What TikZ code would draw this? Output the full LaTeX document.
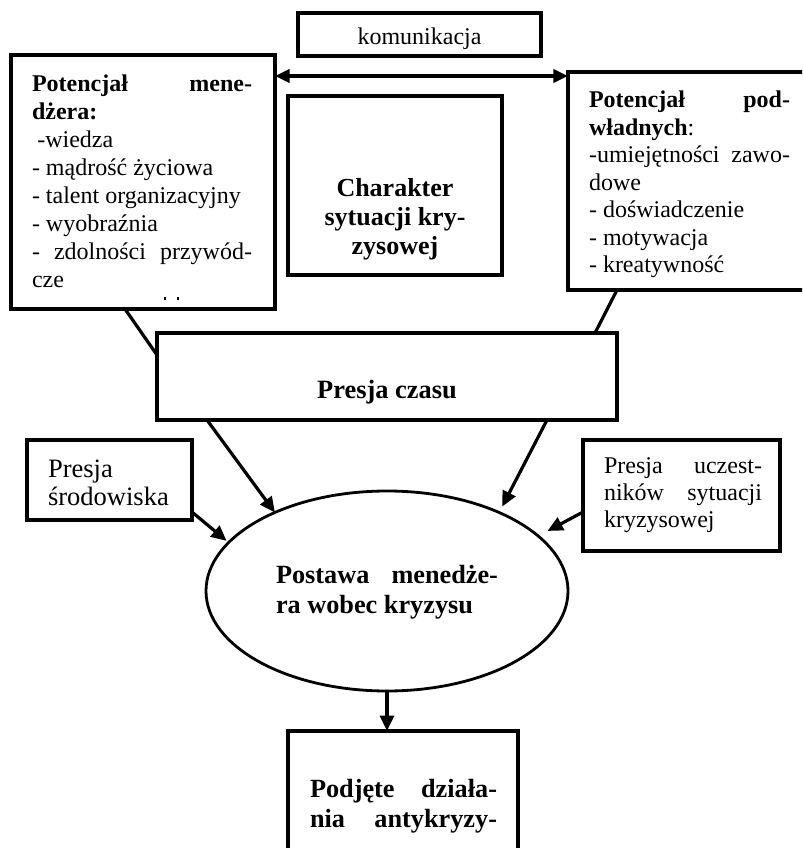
\documentclass[tikz,border=0pt]{standalone}
\usepackage{fontspec}
\setmainfont{Liberation Serif}
\usetikzlibrary{arrows.meta,shapes.geometric,calc}
\tikzset{
  box/.style={draw, rectangle, line width=2.5pt, inner sep=0pt, outer sep=0pt, anchor=north west},
  txt/.style={inner sep=0pt, outer sep=0pt, anchor=base west},
  ctxt/.style={inner sep=0pt, outer sep=0pt, anchor=base},
  conn/.style={line width=2.4pt},
  arr/.style={line width=2.4pt, -{Triangle[length=11.5pt,width=10.5pt]}},
  darr/.style={line width=2.4pt, {Triangle[length=11pt,width=10pt]}-{Triangle[length=11pt,width=10pt]}},
}
\newcommand\jl[1]{\makebox[\linewidth][s]{#1}}
\begin{document}
\begin{tikzpicture}[x=0.75pt,y=-0.75pt]
\useasboundingbox (0,0) rectangle (802,848);
\clip (0,0) rectangle (802,848);

% boxes
\node[box, minimum width=182.25pt, minimum height=32.25pt] (kom) at (298,13) {};
\node[box, minimum width=198pt, minimum height=190.5pt] (lb) at (11,55) {};
\node[box, minimum width=196.5pt, minimum height=163.5pt] (rb) at (568,72) {};
\node[box, minimum width=160.5pt, minimum height=134.25pt] (ch) at (288,96) {};
\node[box, minimum width=345pt, minimum height=65.25pt] (pc) at (157,333) {};
\node[box, minimum width=123.75pt, minimum height=60pt] (ps) at (27,440) {};
\node[box, minimum width=147.75pt, minimum height=83.25pt] (pu) at (583,440) {};
\node[draw, ellipse, line width=2.1pt, minimum width=271.5pt, minimum height=150pt, inner sep=0pt, outer sep=0pt] (el) at (387,591) {};
\node[box, minimum width=172.5pt, minimum height=150pt] (bb) at (288,731) {};

% texts
\node[ctxt] (komt) at (419.5,45) {\fontsize{18}{20}\selectfont komunikacja};

\node[txt] (lbt) at (32,92) {\parbox[t]{165pt}{\fontsize{18}{20.9}\selectfont
\textbf{\jl{Potencjał mene-}}\\
\textbf{dżera:}\\
\hspace*{4pt}-wiedza\\
- mądrość życiowa\\
- talent organizacyjny\\
- wyobraźnia\\
\jl{- zdolności przywód-}\\
cze}};
\fill (164,296.5) rectangle (166,299.5);
\fill (177,296.5) rectangle (179,299.5);

\node[txt] (rbt) at (589,108) {\parbox[t]{150.75pt}{\fontsize{18}{20.6}\selectfont
\textbf{\jl{Potencjał pod-}}\\
\textbf{władnych}:\\
\jl{-umiejętności zawo-}\\
dowe\\
- doświadczenie\\
- motywacja\\
- kreatywność}};

\node[ctxt] (cht) at (395,197) {\parbox[t]{160.5pt}{\centering\fontsize{19.5}{21.4}\selectfont\bfseries
Charakter\\ sytuacji kry-\\ zysowej}};

\node[ctxt] (pct) at (387,398) {\fontsize{19.8}{21}\selectfont\bfseries Presja czasu};

\node[txt] (pst) at (48,477) {\parbox[t]{120pt}{\fontsize{19.9}{21}\selectfont
Presja\\ środowiska}};

\node[txt] (put) at (604,473) {\parbox[t]{118.5pt}{\fontsize{18}{20.6}\selectfont
\jl{Presja uczest-}\\
\jl{ników sytuacji}\\
kryzysowej}};

\node[txt] (elt) at (276,583) {\parbox[t]{166.5pt}{\fontsize{19.7}{22.5}\selectfont\bfseries
\jl{Postawa menedże-}\\
ra wobec kryzysu}};

\node[txt] (bbt) at (310,797) {\parbox[t]{140.25pt}{\fontsize{19.7}{22.5}\selectfont\bfseries
\jl{Podjęte działa-}\\
\jl{nia antykryzy-}}};

% connectors
\draw[darr] ($(lb.north east)+(0,21)$) -- ($(rb.north west)+(0,4)$);
\draw[conn] ($(lb.south west)+(114,0)$) -- ($(pc.north west)+(0,22)$);
\draw[conn] ($(rb.south west)+(49,0)$) -- ($(pc.north east)+(-22,0)$);
\draw[arr] ($(pc.south west)+(50,0)$) -- (el.145);
\draw[arr, shorten >=5pt] ($(pc.south east)+(-70,0)$) -- (el.35);
\draw[arr, shorten >=2pt] ($(ps.south east)+(0,-8)$) -- (el.163);
\draw[arr, shorten >=8pt] ($(pu.north west)+(0,72)$) -- (el.20);
\draw[arr] (el.south) -- (el.south |- bb.north);
\end{tikzpicture}
\end{document}
